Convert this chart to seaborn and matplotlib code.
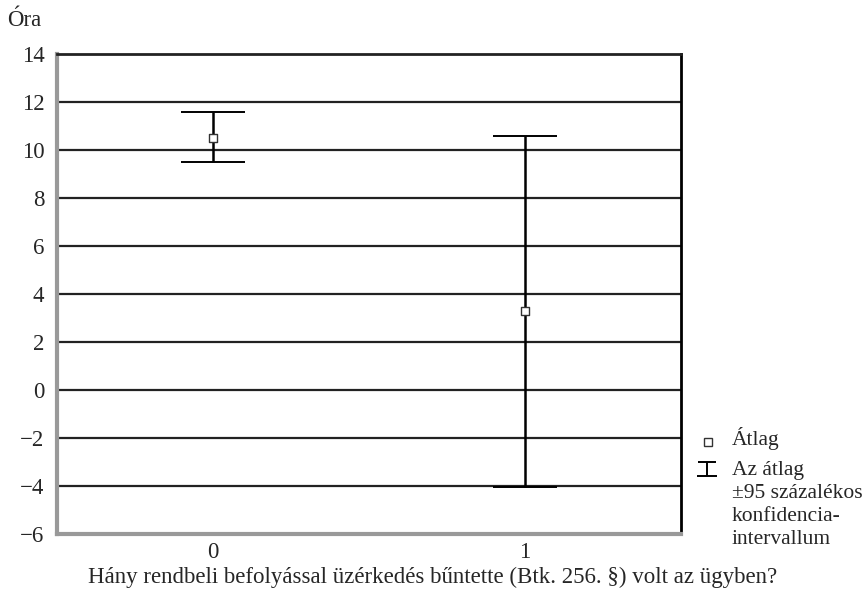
import numpy as np
import pandas as pd
import matplotlib
matplotlib.use("Agg")
import matplotlib.pyplot as plt
import seaborn as sns
from matplotlib.lines import Line2D
from matplotlib.path import Path

# Adatok (leolvasva az ábráról)
groups = ["0", "1"]
means = [10.5, 3.3]
ci_low = [9.5, -4.05]
ci_high = [11.6, 10.6]
y_ticks = [-6, -4, -2, 0, 2, 4, 6, 8, 10, 12, 14]

FS = 16.5
LEG_FS = 15.5
sns.set_style("white")
plt.rcParams["font.family"] = ["Liberation Serif", "DejaVu Serif"]
plt.rcParams["font.size"] = FS

df = pd.DataFrame({"group": groups, "mean": means, "low": ci_low, "high": ci_high})
df["x"] = np.arange(len(groups))

W, H = 865, 593
fig = plt.figure(figsize=(W / 100, H / 100), dpi=100)
ax = fig.add_axes([57 / W, 1 - 534 / H, 624 / W, 480 / H])


def fy(py):
    # pixel-sor -> ábra-koordináta
    return 1 - py / H


# vízszintes rácsvonalak
for y in y_ticks[1:-1]:
    ax.axhline(y, color="#222222", lw=1.6, zorder=1)

# konfidencia-intervallum
ax.errorbar(df["x"], df["mean"],
            yerr=[df["mean"] - df["low"], df["high"] - df["mean"]],
            fmt="none", ecolor="black", elinewidth=1.8, capsize=23,
            capthick=1.4, zorder=3)

# átlagok
sns.scatterplot(data=df, x="x", y="mean", marker="s", s=40,
                color="white", edgecolor="#333333", linewidth=1.0,
                ax=ax, zorder=4, legend=False)

ax.set_xlim(-0.5, 1.5)
ax.set_ylim(-6, 14)
ax.set_xticks(df["x"])
ax.set_xticklabels(groups)
ax.set_yticks(y_ticks)
ax.set_yticklabels([str(t).replace("-", "\u2212") for t in y_ticks])
ax.set_xlabel("")
ax.set_ylabel("")
ax.tick_params(axis="both", direction="out", length=3, width=2,
               color="#999999", labelsize=FS)
ax.tick_params(axis="y", pad=6)
ax.tick_params(axis="x", pad=3)

for side in ["left", "bottom"]:
    ax.spines[side].set_color("#999999")
    ax.spines[side].set_linewidth(3)
ax.spines["right"].set_color("black")
ax.spines["right"].set_linewidth(2)
ax.spines["top"].set_color("#222222")
ax.spines["top"].set_linewidth(2)

fig.text(7 / W, fy(20), "Óra", fontsize=FS, va="center", ha="left")
fig.text(0.5, fy(577),
         "Hány rendbeli befolyással üzérkedés bűntette (Btk. 256. §) volt az ügyben?",
         fontsize=FS, ha="center", va="center")

# jelmagyarázat (kézzel elhelyezve)
ci_icon = Path([(-0.45, 0.35), (0.45, 0.35), (0, 0.35), (0, -0.35), (-0.5, -0.35), (0.5, -0.35)],
               [Path.MOVETO, Path.LINETO, Path.MOVETO, Path.LINETO, Path.MOVETO, Path.LINETO])
fig.add_artist(Line2D([708 / W], [fy(442)], transform=fig.transFigure,
                      linestyle="none", marker="s", markersize=6,
                      markerfacecolor="white", markeredgecolor="#333333"))
fig.add_artist(Line2D([707 / W], [fy(469)], transform=fig.transFigure,
                      linestyle="none", marker=ci_icon, markersize=15,
                      markerfacecolor="none", markeredgecolor="black",
                      markeredgewidth=1.4))
fig.text(732 / W, fy(438), "Átlag", fontsize=LEG_FS, ha="left", va="center")
fig.text(732 / W, fy(461), "Az átlag\n±95 százalékos\nkonfidencia-\nintervallum",
         fontsize=LEG_FS, ha="left", va="top", linespacing=1.28)

fig.savefig("out.png", dpi=100)
